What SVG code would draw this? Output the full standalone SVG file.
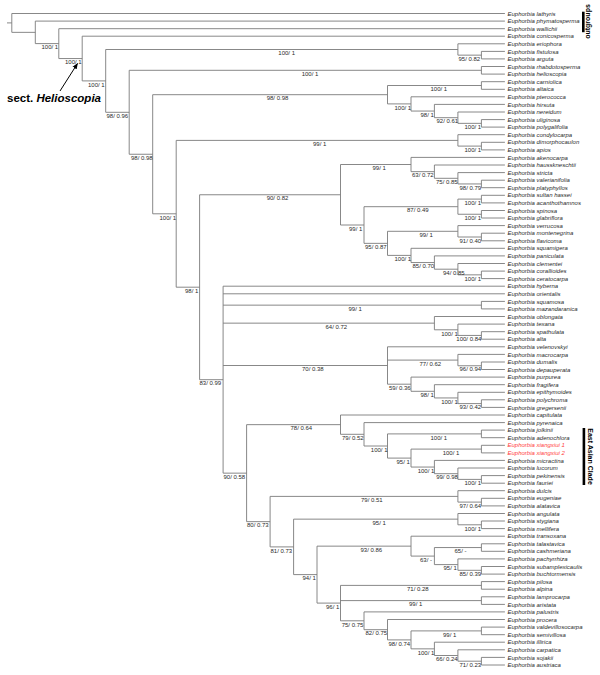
<svg xmlns="http://www.w3.org/2000/svg" width="600" height="675" viewBox="0 0 600 675">
<style>
.br{fill:none;stroke:#7a7a7a;stroke-width:0.9}
.tx{font-family:"Liberation Sans",Arial,sans-serif;font-size:6px;font-style:italic;fill:#2a2a2a}
.red{fill:#ff3b3b}
.bs{font-family:"Liberation Sans",Arial,sans-serif;font-size:6px;fill:#2a2a2a}
.grp{font-family:"Liberation Sans",Arial,sans-serif;font-size:7px;font-weight:bold;fill:#000}
</style>
<defs>
<marker id="ah" viewBox="0 0 10 10" refX="9" refY="5" markerWidth="6" markerHeight="6" markerUnits="userSpaceOnUse" orient="auto"><path d="M0 1L10 5L0 9z" fill="#000"/></marker>
</defs>
<rect width="600" height="675" fill="#fff"/>
<g id="connectors">
<path class="br" d="M7 22.9H11.8M11.8 13.5V32.35M11.8 13.5H504.9M11.8 32.35H35.3M35.3 21.1V43.6M35.3 21.1H504.9M35.3 43.6H58.8M58.8 28.7V58.55M58.8 28.7H504.9M58.8 58.55H82.2M82.2 36.2V80.9M82.2 36.2H504.9M82.2 80.9H105.7M105.7 49.5V112.3M105.7 49.5H457.9M457.9 43.8V55.15M457.9 43.8H504.9M457.9 55.15H481.4M481.4 51.4V58.9M481.4 51.4H504.9M481.4 58.9H504.9M105.7 112.3H129.2M129.2 70.3V154.25M129.2 70.3H481.4M481.4 66.5V74.1M481.4 66.5H504.9M481.4 74.1H504.9M129.2 154.25H152.7M152.7 94.7V213.8M152.7 94.7H387.5M387.5 85.5V103.9M387.5 85.5H481.4M481.4 81.7V89.3M481.4 81.7H504.9M481.4 89.3H504.9M387.5 103.9H411M411 96.8V111.05M411 96.8H504.9M411 111.05H434.4M434.4 104.4V117.7M434.4 104.4H504.9M434.4 117.7H457.9M457.9 112V123.35M457.9 112H504.9M457.9 123.35H481.4M481.4 119.6V127.1M481.4 119.6H504.9M481.4 127.1H504.9"/>
<path class="br" d="M152.7 213.8H176.2M176.2 140.4V287.2M176.2 140.4H457.9M457.9 134.7V146.1M457.9 134.7H504.9M457.9 146.1H481.4M481.4 142.3V149.9M481.4 142.3H504.9M481.4 149.9H504.9M176.2 287.2H199.6M199.6 194.75V379.7M199.6 194.75H340.5M340.5 164.5V225M340.5 164.5H411M411 157.4V171.65M411 157.4H504.9M411 171.65H434.4M434.4 165V178.3M434.4 165H504.9M434.4 178.3H457.9M457.9 172.6V183.95M457.9 172.6H504.9M457.9 183.95H481.4M481.4 180.2V187.7M481.4 180.2H504.9M481.4 187.7H504.9M340.5 225H364M364 206.7V243.35M364 206.7H457.9M457.9 199.1V214.25M457.9 199.1H481.4M481.4 195.3V202.9M481.4 195.3H504.9M481.4 202.9H504.9M457.9 214.25H481.4M481.4 210.5V218M481.4 210.5H504.9M481.4 218H504.9M364 243.35H387.5M387.5 231.3V255.4M387.5 231.3H457.9M457.9 225.6V237M457.9 225.6H504.9M457.9 237H481.4M481.4 233.2V240.8M481.4 233.2H504.9M481.4 240.8H504.9M387.5 255.4H411M411 248.3V262.55M411 248.3H504.9M411 262.55H434.4M434.4 255.9V269.2M434.4 255.9H504.9M434.4 269.2H457.9M457.9 263.5V274.85M457.9 263.5H504.9M457.9 274.85H481.4M481.4 271.1V278.6M481.4 271.1H504.9M481.4 278.6H504.9"/>
<path class="br" d="M199.6 379.7H223.1M223.1 286.2V473.15M223.1 286.2H504.9M223.1 293.8H504.9M223.1 305.15H481.4M481.4 301.4V308.9M481.4 301.4H504.9M481.4 308.9H504.9M223.1 323.15H434.4M434.4 316.5V329.8M434.4 316.5H504.9M434.4 329.8H457.9M457.9 324.1V335.45M457.9 324.1H504.9M457.9 335.45H481.4M481.4 331.7V339.2M481.4 331.7H504.9M481.4 339.2H504.9M223.1 365.5H387.5M387.5 346.8V384.2M387.5 346.8H504.9M387.5 360.1H457.9M457.9 354.4V365.75M457.9 354.4H504.9M457.9 365.75H481.4M481.4 362V369.5M481.4 362H504.9M481.4 369.5H504.9M387.5 384.2H411M411 377.1V391.3M411 377.1H504.9M411 391.3H434.4M434.4 384.7V397.95M434.4 384.7H504.9M434.4 397.95H457.9M457.9 392.3V403.6M457.9 392.3H504.9M457.9 403.6H481.4M481.4 399.8V407.4M481.4 399.8H504.9M481.4 407.4H504.9"/>
<path class="br" d="M223.1 473.15H246.6M246.6 424.65V521.65M246.6 424.65H340.5M340.5 415V434.3M340.5 415H504.9M340.5 434.3H364M364 422.6V446M364 422.6H504.9M364 446H387.5M387.5 433.9V458.1M387.5 433.9H481.4M481.4 430.1V437.7M481.4 430.1H504.9M481.4 437.7H504.9M387.5 458.1H411M411 449.1V467.05M411 449.1H481.4M481.4 445.3V452.9M481.4 445.3H504.9M481.4 452.9H504.9M411 467.05H434.4M434.4 460.4V473.7M434.4 460.4H504.9M434.4 473.7H457.9M457.9 468V479.4M457.9 468H504.9M457.9 479.4H481.4M481.4 475.6V483.2M481.4 475.6H504.9M481.4 483.2H504.9"/>
<path class="br" d="M246.6 521.65H270.1M270.1 496.4V546.9M270.1 496.4H457.9M457.9 490.7V502.1M457.9 490.7H504.9M457.9 502.1H481.4M481.4 498.3V505.9M481.4 498.3H504.9M481.4 505.9H504.9M270.1 546.9H293.6M293.6 519.15V574.6M293.6 519.15H457.9M457.9 513.5V524.8M457.9 513.5H504.9M457.9 524.8H481.4M481.4 521V528.6M481.4 521H504.9M481.4 528.6H504.9M293.6 574.6H317M317 546.15V603.1M317 546.15H411M411 536.2V556.1M411 536.2H504.9M411 556.1H434.4M434.4 547.55V564.6M434.4 547.55H481.4M481.4 543.8V551.3M481.4 543.8H504.9M481.4 551.3H504.9M434.4 564.6H457.9M457.9 558.9V570.3M457.9 558.9H504.9M457.9 570.3H481.4M481.4 566.5V574.1M481.4 566.5H504.9M481.4 574.1H504.9M317 603.1H340.5M340.5 585.4V620.8M340.5 585.4H481.4M481.4 581.6V589.2M481.4 581.6H504.9M481.4 589.2H504.9M340.5 600.6H481.4M481.4 596.8V604.4M481.4 596.8H504.9M481.4 604.4H504.9M340.5 620.8H364M364 611.9V629.7M364 611.9H504.9M364 629.7H387.5M387.5 619.5V639.9M387.5 619.5H504.9M387.5 639.9H411M411 630.9V648.85M411 630.9H481.4M481.4 627.1V634.7M481.4 627.1H504.9M481.4 634.7H504.9M411 648.85H434.4M434.4 642.2V655.5M434.4 642.2H504.9M434.4 655.5H457.9M457.9 649.8V661.2M457.9 649.8H504.9M457.9 661.2H481.4M481.4 657.4V665M481.4 657.4H504.9M481.4 665H504.9"/>
<line x1="60" y1="91" x2="77.5" y2="63.5" stroke="#000" stroke-width="1" marker-end="url(#ah)"/>
</g>
<g id="support" class="bs">
<text x="41.5" y="49.3">100/ 1</text>
<text x="65" y="64.25">100/ 1</text>
<text x="88" y="86.6">100/ 1</text>
<text x="106.5" y="118">98/ 0.96</text>
<text x="278.3" y="55.2">100/ 1</text>
<text x="458.5" y="60.85">95/ 0.82</text>
<text x="301.7" y="76">100/ 1</text>
<text x="131" y="159.95">98/ 0.98</text>
<text x="430.5" y="91.2">100/ 1</text>
<text x="266.7" y="100.4">98/ 0.98</text>
<text x="394.5" y="109.6">100/ 1</text>
<text x="420.5" y="116.75">98/ 1</text>
<text x="436.5" y="123.4">92/ 0.61</text>
<text x="464.5" y="129.05">100/ 1</text>
<text x="313" y="146.1">99/ 1</text>
<text x="464.5" y="151.8">100/ 1</text>
<text x="159.5" y="219.5">100/ 1</text>
<text x="266.7" y="200.45">90/ 0.82</text>
<text x="372.5" y="170.2">99/ 1</text>
<text x="412" y="177.35">63/ 0.72</text>
<text x="436" y="184">75/ 0.85</text>
<text x="459.5" y="189.65">98/ 0.79</text>
<text x="349" y="230.7">99/ 1</text>
<text x="407" y="212.4">87/ 0.49</text>
<text x="464.5" y="204.8">100/ 1</text>
<text x="464.5" y="219.95">100/ 1</text>
<text x="365" y="249.05">95/ 0.87</text>
<text x="419.5" y="237">99/ 1</text>
<text x="459.5" y="242.7">91/ 0.40</text>
<text x="394.5" y="261.1">100/ 1</text>
<text x="412.5" y="268.25">85/ 0.70</text>
<text x="443" y="274.9">94/ 0.85</text>
<text x="464.5" y="280.55">100/ 1</text>
<text x="185" y="292.9">98/ 1</text>
<text x="199.5" y="385.4">83/ 0.99</text>
<text x="348.5" y="310.85">99/ 1</text>
<text x="325.5" y="328.85">64/ 0.72</text>
<text x="441.2" y="335.5">100/ 1</text>
<text x="456.3" y="341.15">100/ 0.84</text>
<text x="302" y="371.2">70/ 0.38</text>
<text x="419.5" y="365.8">77/ 0.62</text>
<text x="459.5" y="371.45">96/ 0.94</text>
<text x="389" y="389.9">59/ 0.36</text>
<text x="420.5" y="397">98/ 1</text>
<text x="441.2" y="403.65">100/ 1</text>
<text x="459.5" y="409.3">93/ 0.42</text>
<text x="223.5" y="478.85">90/ 0.58</text>
<text x="290.5" y="430.35">78/ 0.64</text>
<text x="342" y="440">79/ 0.52</text>
<text x="370.8" y="451.7">100/ 1</text>
<text x="430.5" y="439.6">100/ 1</text>
<text x="396.5" y="463.8">95/ 1</text>
<text x="442.7" y="454.8">100/ 1</text>
<text x="417.7" y="472.75">100/ 1</text>
<text x="436.2" y="479.4">99/ 0.98</text>
<text x="464.5" y="485.1">100/ 1</text>
<text x="247" y="527.35">80/ 0.73</text>
<text x="361" y="502.1">79/ 0.51</text>
<text x="459.5" y="507.8">97/ 0.64</text>
<text x="270.5" y="552.6">81/ 0.73</text>
<text x="372.5" y="524.85">95/ 1</text>
<text x="464.5" y="530.5">100/ 1</text>
<text x="302.5" y="580.3">94/ 1</text>
<text x="360.5" y="551.85">93/ 0.86</text>
<text x="454.5" y="553.25">65/ -</text>
<text x="420" y="561.8">63/ -</text>
<text x="443.5" y="570.3">95/ 1</text>
<text x="459.5" y="576">85/ 0.39</text>
<text x="326" y="608.8">96/ 1</text>
<text x="407" y="591.1">71/ 0.28</text>
<text x="409" y="606.3">99/ 1</text>
<text x="341.7" y="626.5">75/ 0.75</text>
<text x="365.5" y="635.4">82/ 0.75</text>
<text x="388.5" y="645.6">98/ 0.74</text>
<text x="443" y="636.6">99/ 1</text>
<text x="417.7" y="654.55">100/ 1</text>
<text x="436" y="661.2">66/ 0.24</text>
<text x="459.5" y="666.9">71/ 0.23</text>
</g>
<g id="taxa" class="tx">
<g id="t01"><text x="507.5" y="15.6">Euphorbia lathyris</text></g>
<g id="t02"><text x="507.5" y="23.2">Euphorbia phymatosperma</text></g>
<g id="t03"><text x="507.5" y="30.8">Euphorbia wallichii</text></g>
<g id="t04"><text x="507.5" y="38.3">Euphorbia conicosperma</text></g>
<g id="t05"><text x="507.5" y="45.9">Euphorbia eriophora</text></g>
<g id="t06"><text x="507.5" y="53.5">Euphorbia fistulosa</text></g>
<g id="t07"><text x="507.5" y="61">Euphorbia arguta</text></g>
<g id="t08"><text x="507.5" y="68.6">Euphorbia rhabdotosperma</text></g>
<g id="t09"><text x="507.5" y="76.2">Euphorbia helioscopia</text></g>
<g id="t10"><text x="507.5" y="83.8">Euphorbia carniolica</text></g>
<g id="t11"><text x="507.5" y="91.4">Euphorbia altaica</text></g>
<g id="t12"><text x="507.5" y="98.9">Euphorbia pterococca</text></g>
<g id="t13"><text x="507.5" y="106.5">Euphorbia hirsuta</text></g>
<g id="t14"><text x="507.5" y="114.1">Euphorbia nereidum</text></g>
<g id="t15"><text x="507.5" y="121.7">Euphorbia uliginosa</text></g>
<g id="t16"><text x="507.5" y="129.2">Euphorbia polygalifolia</text></g>
<g id="t17"><text x="507.5" y="136.8">Euphorbia condylocarpa</text></g>
<g id="t18"><text x="507.5" y="144.4">Euphorbia dimorphocaulon</text></g>
<g id="t19"><text x="507.5" y="152">Euphorbia apios</text></g>
<g id="t20"><text x="507.5" y="159.5">Euphorbia akenocarpa</text></g>
<g id="t21"><text x="507.5" y="167.1">Euphorbia hausskneschtii</text></g>
<g id="t22"><text x="507.5" y="174.7">Euphorbia stricta</text></g>
<g id="t23"><text x="507.5" y="182.3">Euphorbia valerianifolia</text></g>
<g id="t24"><text x="507.5" y="189.8">Euphorbia platyphyllos</text></g>
<g id="t25"><text x="507.5" y="197.4">Euphorbia sultan hassei</text></g>
<g id="t26"><text x="507.5" y="205">Euphorbia acanthothamnos</text></g>
<g id="t27"><text x="507.5" y="212.6">Euphorbia spinosa</text></g>
<g id="t28"><text x="507.5" y="220.1">Euphorbia glabriflora</text></g>
<g id="t29"><text x="507.5" y="227.7">Euphorbia verrucosa</text></g>
<g id="t30"><text x="507.5" y="235.3">Euphorbia montenegrina</text></g>
<g id="t31"><text x="507.5" y="242.9">Euphorbia flavicoma</text></g>
<g id="t32"><text x="507.5" y="250.4">Euphorbia squamigera</text></g>
<g id="t33"><text x="507.5" y="258">Euphorbia paniculata</text></g>
<g id="t34"><text x="507.5" y="265.6">Euphorbia clementei</text></g>
<g id="t35"><text x="507.5" y="273.2">Euphorbia corallioides</text></g>
<g id="t36"><text x="507.5" y="280.7">Euphorbia ceratocarpa</text></g>
<g id="t37"><text x="507.5" y="288.3">Euphorbia hyberna</text></g>
<g id="t38"><text x="507.5" y="295.9">Euphorbia orientalis</text></g>
<g id="t39"><text x="507.5" y="303.5">Euphorbia squamosa</text></g>
<g id="t40"><text x="507.5" y="311">Euphorbia mazandaranica</text></g>
<g id="t41"><text x="507.5" y="318.6">Euphorbia oblongata</text></g>
<g id="t42"><text x="507.5" y="326.2">Euphorbia texana</text></g>
<g id="t43"><text x="507.5" y="333.8">Euphorbia spathulata</text></g>
<g id="t44"><text x="507.5" y="341.3">Euphorbia alta</text></g>
<g id="t45"><text x="507.5" y="348.9">Euphorbia velenovskyi</text></g>
<g id="t46"><text x="507.5" y="356.5">Euphorbia macrocarpa</text></g>
<g id="t47"><text x="507.5" y="364.1">Euphorbia dumalis</text></g>
<g id="t48"><text x="507.5" y="371.6">Euphorbia depauperata</text></g>
<g id="t49"><text x="507.5" y="379.2">Euphorbia purpurea</text></g>
<g id="t50"><text x="507.5" y="386.8">Euphorbia fragifera</text></g>
<g id="t51"><text x="507.5" y="394.4">Euphorbia epithymoides</text></g>
<g id="t52"><text x="507.5" y="401.9">Euphorbia polychroma</text></g>
<g id="t53"><text x="507.5" y="409.5">Euphorbia gregersenii</text></g>
<g id="t54"><text x="507.5" y="417.1">Euphorbia capitulata</text></g>
<g id="t55"><text x="507.5" y="424.7">Euphorbia pyrenaica</text></g>
<g id="t56"><text x="507.5" y="432.2">Euphorbia jolkinii</text></g>
<g id="t57"><text x="507.5" y="439.8">Euphorbia adenochlora</text></g>
<g id="t58"><text class="red" x="507.5" y="447.4">Euphorbia xiangxiui 1</text></g>
<g id="t59"><text class="red" x="507.5" y="455">Euphorbia xiangxiui 2</text></g>
<g id="t60"><text x="507.5" y="462.5">Euphorbia micractina</text></g>
<g id="t61"><text x="507.5" y="470.1">Euphorbia lucorum</text></g>
<g id="t62"><text x="507.5" y="477.7">Euphorbia pekinensis</text></g>
<g id="t63"><text x="507.5" y="485.3">Euphorbia fauriei</text></g>
<g id="t64"><text x="507.5" y="492.8">Euphorbia dulcis</text></g>
<g id="t65"><text x="507.5" y="500.4">Euphorbia eugeniae</text></g>
<g id="t66"><text x="507.5" y="508">Euphorbia alatavica</text></g>
<g id="t67"><text x="507.5" y="515.6">Euphorbia angulata</text></g>
<g id="t68"><text x="507.5" y="523.1">Euphorbia stygiana</text></g>
<g id="t69"><text x="507.5" y="530.7">Euphorbia mellifera</text></g>
<g id="t70"><text x="507.5" y="538.3">Euphorbia transoxana</text></g>
<g id="t71"><text x="507.5" y="545.9">Euphorbia talastavica</text></g>
<g id="t72"><text x="507.5" y="553.4">Euphorbia cashmeriana</text></g>
<g id="t73"><text x="507.5" y="561">Euphorbia pachyrrhiza</text></g>
<g id="t74"><text x="507.5" y="568.6">Euphorbia subamplexicaulis</text></g>
<g id="t75"><text x="507.5" y="576.2">Euphorbia buchtormensis</text></g>
<g id="t76"><text x="507.5" y="583.7">Euphorbia pilosa</text></g>
<g id="t77"><text x="507.5" y="591.3">Euphorbia alpina</text></g>
<g id="t78"><text x="507.5" y="598.9">Euphorbia lamprocarpa</text></g>
<g id="t79"><text x="507.5" y="606.5">Euphorbia aristata</text></g>
<g id="t80"><text x="507.5" y="614">Euphorbia palustris</text></g>
<g id="t81"><text x="507.5" y="621.6">Euphorbia procera</text></g>
<g id="t82"><text x="507.5" y="629.2">Euphorbia valdevillosocarpa</text></g>
<g id="t83"><text x="507.5" y="636.8">Euphorbia semivillosa</text></g>
<g id="t84"><text x="507.5" y="644.3">Euphorbia illirica</text></g>
<g id="t85"><text x="507.5" y="651.9">Euphorbia carpatica</text></g>
<g id="t86"><text x="507.5" y="659.5">Euphorbia sojakii</text></g>
<g id="t87"><text x="507.5" y="667.1">Euphorbia austriaca</text></g>
</g>
<g id="outgroups">
<rect x="582" y="11.7" width="2.6" height="20.5" fill="#000"/>
<text class="grp" transform="translate(590 21.5) rotate(-90)" text-anchor="middle">outgroups</text>
</g>
<g id="east-asian-clade">
<rect x="582.6" y="428" width="2.6" height="57" fill="#000"/>
<text class="grp" transform="translate(587.5 456.5) rotate(90)" text-anchor="middle">East Asian Clade</text>
</g>
<g id="sect-helioscopia">
<text x="7" y="102" font-family="Liberation Sans,Arial,sans-serif" font-size="11.5" font-weight="bold" fill="#000">sect. <tspan font-style="italic">Helioscopia</tspan></text>
</g>
</svg>
